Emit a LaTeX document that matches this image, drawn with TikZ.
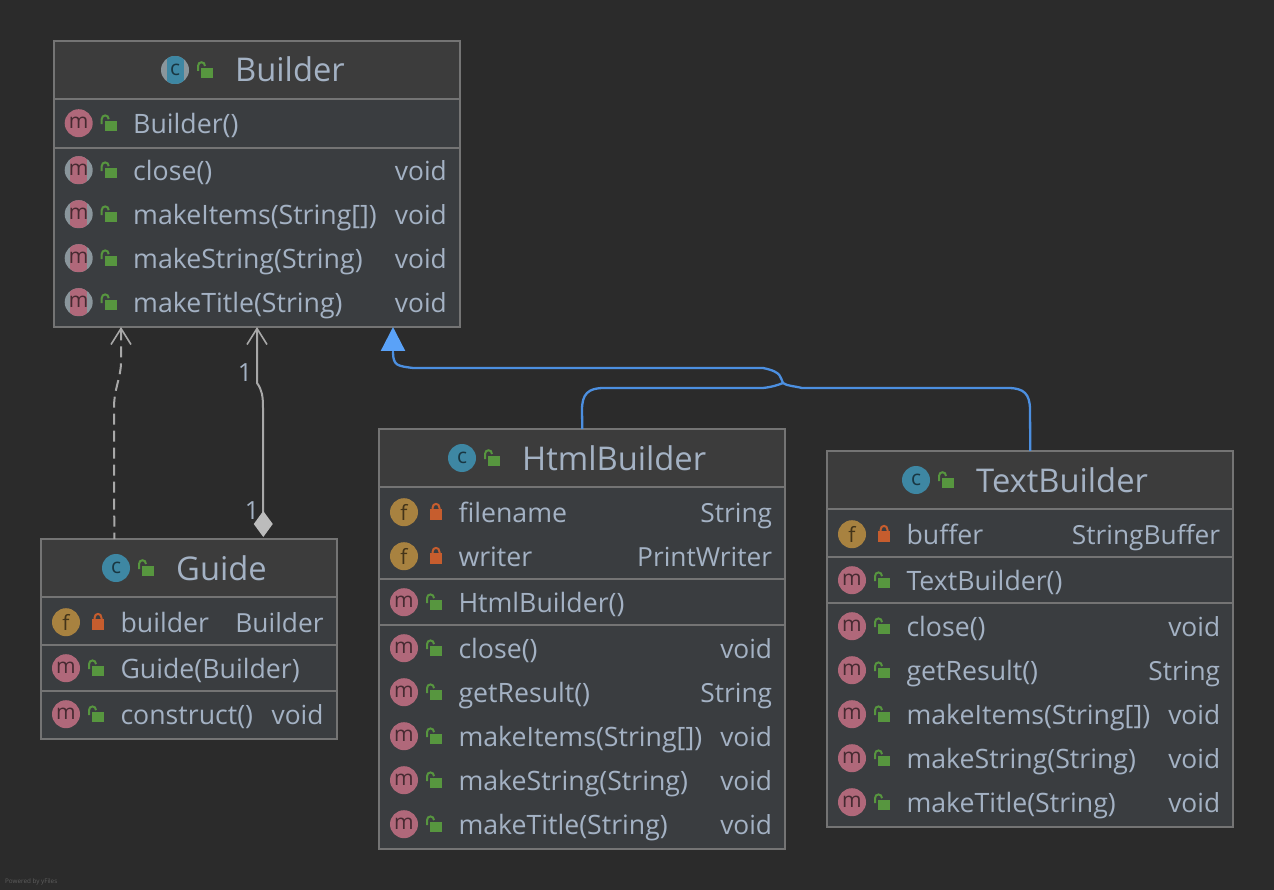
\documentclass[tikz,border=0pt]{standalone}
\usepackage{fontspec}
\setmainfont{Open Sans}
\usetikzlibrary{arrows.meta}

\definecolor{canvas}{HTML}{2B2B2B}
\definecolor{headfill}{HTML}{3C3C3C}
\definecolor{bodyfill}{HTML}{3A3D40}
\definecolor{frameline}{HTML}{747474}
\definecolor{labeltext}{HTML}{A4B2C4}
\definecolor{methodpink}{HTML}{B0687A}
\definecolor{fieldgold}{HTML}{A88240}
\definecolor{classteal}{HTML}{3E87A3}
\definecolor{ringgrey}{HTML}{8A969C}
\definecolor{lockgreen}{HTML}{57963F}
\definecolor{lockred}{HTML}{C65D2E}
\definecolor{linkgrey}{HTML}{A8A8A8}
\definecolor{diamondgrey}{HTML}{BCBCBC}
\definecolor{linkblue}{HTML}{4C8FE0}
\definecolor{tipblue}{HTML}{5AA2F8}

\tikzset{
  frame/.style={draw=frameline,line width=2pt,outer sep=0pt,inner sep=0pt,anchor=north west},
  headbox/.style={frame,fill=headfill,minimum height=58pt},
  secbox/.style={frame,fill=bodyfill},
  rowtext/.style={text=labeltext,font=\fontsize{26.7}{27}\selectfont,inner sep=0pt},
  typetext/.style={text=labeltext,font=\fontsize{26.3}{27}\selectfont,inner sep=0pt},
  titletext/.style={text=labeltext,font=\fontsize{32.7}{33}\selectfont,inner sep=0pt,anchor=base west},
  badge/.style={circle,inner sep=0pt,minimum size=28pt,font=\fontsize{21}{21}\selectfont},
  mbadge/.style={badge,fill=methodpink,text=methodpink!40!black},
  fbadge/.style={badge,fill=fieldgold,text=fieldgold!40!black},
  cbadge/.style={badge,fill=classteal,text=classteal!40!black},
  ringed/.style={badge,fill=ringgrey,path picture={
    \fill[#1] (path picture bounding box.center) ++(-8.5pt,-14pt) rectangle ++(17pt,28pt);}},
  abadge/.style={ringed=methodpink,text=methodpink!40!black},
  acbadge/.style={ringed=classteal,text=classteal!40!black},
  openlock/.pic={
    \fill[lockgreen] (26,-2) rectangle (38,8);
    \draw[lockgreen,line width=2pt] (23,1) -- (23,-4) .. controls (23,-9) and (30,-9) .. (30,-4);},
  closedlock/.pic={
    \fill[lockred] (26,-3.2) rectangle (38,7.8);
    \draw[lockred,line width=2pt] (28.5,-3.2) -- (28.5,-4.2) .. controls (28.5,-9.7) and (35.5,-9.7) .. (35.5,-4.2) -- (35.5,-3.2);},
  dependency/.style={draw=linkgrey,line width=2pt,dash pattern=on 11pt off 6pt,{Straight Barb[length=16pt,width=20pt,line width=1.6pt]}-},
  association/.style={draw=linkgrey,line width=2pt,{Straight Barb[length=16pt,width=20pt,line width=1.6pt]}-{Diamond[length=26pt,width=19pt,fill=diamondgrey,color=diamondgrey]}},
  inherit/.style={draw=linkblue,line width=2.3pt,line join=round},
  multiplicity/.style={text=labeltext,font=\fontsize{25}{25}\selectfont,inner sep=0pt}
}

\begin{document}
\begin{tikzpicture}[x=1pt,y=-1pt]

  \fill[canvas] (0,0) rectangle (1274,890);
  \useasboundingbox (0,0) rectangle (1274,890);

  %Class headers
  \foreach \nm/\x/\y/\w in {builder/54/41/406,guide/41.3/539/295.4,html/379.3/429/406,text/827.3/451/406}
    {\node[headbox,minimum width=\w] (\nm head) at (\x,\y) {};}

  %Sections under the headers
  \foreach \nm/\x/\y/\w/\h in {builderctor/54/99/406/49,buildermethods/54/148/406/179,
      guidefields/41.3/597/295.4/48,guidector/41.3/645/295.4/46,guidemethods/41.3/691/295.4/48,
      htmlfields/379.3/487/406/92,htmlctor/379.3/579/406/46,htmlmethods/379.3/625/406/224,
      textfields/827.3/509/406/48,textctor/827.3/557/406/46,textmethods/827.3/603/406/224}
    {\node[secbox,minimum width=\w,minimum height=\h] (\nm) at (\x,\y) {};}

  %Titles
  \foreach \nm/\bd/\cx/\y/\tx/\title in {builder/acbadge/175/70/236/Builder,guide/cbadge/116/568/177/Guide,
      html/cbadge/462/458/523/HtmlBuilder,text/cbadge/916/480/977/TextBuilder}
    {\node[\bd] (\nm icon) at (\cx,\y) {c};
     \pic at (\cx,\y) {openlock};
     \node[titletext] (\nm title) at (\tx-1,\y+12) {\title};}

  %one row of a class: badge, lock, name, type
  \def\classrows#1#2#3#4{
    \foreach \y/\bd/\lt/\lk/\txt/\typ [count=\i] in {#4}
      {\node[\bd] (#1icon\i) at (#2+24.7,\y-0.8) {\lt};
       \pic at (#2+24.7,\y-0.8) {\lk};
       \node[rowtext,anchor=base west] (#1name\i) at (#2+79,\y+9.3) {\txt};
       \node[typetext,anchor=base east] (#1type\i) at (#3-13,\y+9.3) {\typ};}}

  % Rows
  \classrows{builder}{54}{460}{
    124/mbadge/m/openlock/{Builder()}/{},
    171/abadge/m/openlock/{close()}/void,
    215/abadge/m/openlock/{makeItems(String[])}/void,
    259/abadge/m/openlock/{makeString(String)}/void,
    303/abadge/m/openlock/{makeTitle(String)}/void}
  \classrows{guide}{41.3}{336.7}{
    623/fbadge/f/closedlock/builder/Builder,
    669/mbadge/m/openlock/{Guide(Builder)}/{},
    715/mbadge/m/openlock/{construct()}/void}
  \classrows{html}{379.3}{785.3}{
    513/fbadge/f/closedlock/filename/String,
    557/fbadge/f/closedlock/writer/PrintWriter,
    603/mbadge/m/openlock/{HtmlBuilder()}/{},
    649/mbadge/m/openlock/{close()}/void,
    693/mbadge/m/openlock/{getResult()}/String,
    737/mbadge/m/openlock/{makeItems(String[])}/void,
    781/mbadge/m/openlock/{makeString(String)}/void,
    825/mbadge/m/openlock/{makeTitle(String)}/void}
  \classrows{text}{827.3}{1233.3}{
    535/fbadge/f/closedlock/buffer/StringBuffer,
    581/mbadge/m/openlock/{TextBuilder()}/{},
    627/mbadge/m/openlock/{close()}/void,
    671/mbadge/m/openlock/{getResult()}/String,
    715/mbadge/m/openlock/{makeItems(String[])}/void,
    759/mbadge/m/openlock/{makeString(String)}/void,
    803/mbadge/m/openlock/{makeTitle(String)}/void}

  % Guide to Builder
  \draw[dependency] ([xshift=67pt]buildermethods.south west) -- (121,362)
    .. controls (121,378) and (114,388) .. (114,408) -- ([xshift=73pt]guidehead.north west);
  \draw[association] ([xshift=203pt]buildermethods.south west) -- (257,383)
    .. controls (262,390) and (263,396) .. (263,408) -- ([xshift=222pt,yshift=2pt]guidehead.north west);
  \node[multiplicity] (usedcount) at (245,373) {1};
  \node[multiplicity] (guidecount) at (252,511) {1};

  % Inheritance, both join before the triangle
  \coordinate (joint) at (783,383);
  \draw[inherit] (htmlhead.north) -- (582,410) .. controls (582,394) and (588,388) .. (604,388)
    -- (763,388) .. controls (772,387) and (778,385) .. (joint);
  \draw[inherit] (texthead.north) -- (1030,410) .. controls (1030,394) and (1024,388) .. (1008,388)
    -- (802,388) .. controls (794,386) and (787,386) .. (joint)
    .. controls (780,378) and (783,372) .. (763,368) -- (413,368)
    .. controls (398,366) and (393,366) .. (393,352);
  \draw[inherit,-{Triangle[length=24pt,width=24pt,fill=tipblue,color=tipblue]}] (393,354) -- ([xshift=339pt]buildermethods.south west);

  \node[text=frameline!70!canvas,font=\fontsize{6.3}{6.3}\selectfont,inner sep=0pt,anchor=west] (poweredby) at (5,882) {Powered by yFiles};

\end{tikzpicture}
\end{document}
